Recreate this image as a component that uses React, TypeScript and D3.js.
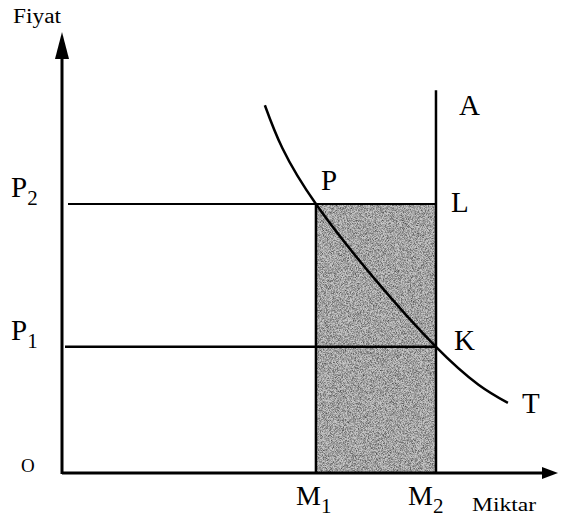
import React from 'react';
import * as d3 from 'd3';

// quantity / price values (axes run 0..100)
const demandQ = [40.9, 51.2, 75.4, 89.9];
const demandP = [83.4, 61.0, 28.6, 15.9];
const M1 = 51.2;
const M2 = 75.4;
const P1 = 28.6;
const P2 = 61.0;
const supplyTop = 86.8;

const W = 562;
const H = 521;
const FONT = '"Liberation Serif", "Times New Roman", serif';

const x = d3.scaleLinear().domain([0, 100]).range([62, 558]);
const y = d3.scaleLinear().domain([0, 100]).range([473, 32]);

const App = () => {
  const demandLine = d3
    .line<number>()
    .x((_, i) => x(demandQ[i]))
    .y((d) => y(d))
    .curve(d3.curveNatural)(demandP) as string;

  const x0 = x(0);
  const y0 = y(0);
  const xm1 = x(M1);
  const xm2 = x(M2);
  const yp1 = y(P1);
  const yp2 = y(P2);
  const xEnd = x(100);
  const yEnd = y(100);

  return (
    <svg
      width={W}
      height={H}
      style={{ position: 'absolute', left: 0, top: 0, background: '#fff' }}
      fontFamily={FONT}
    >
      <defs>
        <filter id="grain" x="0" y="0" width="100%" height="100%">
          <feTurbulence type="fractalNoise" baseFrequency="1.4" numOctaves="2" seed="3" result="n" />
          <feColorMatrix
            in="n"
            type="matrix"
            values="0 0 0 0 0  0 0 0 0 0  0 0 0 0 0  1.2 0 0 0 -0.42"
          />
        </filter>
      </defs>

      {/* shaded area M1..M2, 0..P2 */}
      <rect x={xm1} y={yp2} width={xm2 - xm1} height={y0 - yp2} fill="#c6c6c6" />
      <rect x={xm1} y={yp2} width={xm2 - xm1} height={y0 - yp2} fill="#000" filter="url(#grain)" />

      {/* price lines */}
      <line x1={x0 + 6} x2={xm2} y1={yp2} y2={yp2} stroke="#000" strokeWidth={2} />
      <line x1={x0 + 3} x2={xm2} y1={yp1} y2={yp1} stroke="#000" strokeWidth={2.5} />

      {/* M1 vertical and supply line A */}
      <line x1={xm1} x2={xm1} y1={yp2} y2={y0} stroke="#000" strokeWidth={2.5} />
      <line x1={xm2} x2={xm2} y1={y(supplyTop)} y2={y0} stroke="#000" strokeWidth={2.5} />

      {/* demand curve T */}
      <path d={demandLine} fill="none" stroke="#000" strokeWidth={2.5} />

      {/* axes */}
      <line x1={x0} x2={x0} y1={y0 + 1} y2={yEnd + 20} stroke="#000" strokeWidth={3} />
      <path d={`M${x0},${yEnd} L${x0 + 7},${yEnd + 27} L${x0 - 7},${yEnd + 27} Z`} fill="#000" />
      <line x1={x0} x2={xEnd - 12} y1={y0} y2={y0} stroke="#000" strokeWidth={3} />
      <path d={`M${xEnd},${y0} L${xEnd - 16},${y0 - 6} L${xEnd - 16},${y0 + 6} Z`} fill="#000" />

      {/* labels */}
      <text x={13} y={23} fontSize={20} textLength={48} lengthAdjust="spacingAndGlyphs">Fiyat</text>
      <text x={472} y={511} fontSize={19} textLength={64} lengthAdjust="spacingAndGlyphs">Miktar</text>
      <text x={21} y={472} fontSize={19}>O</text>

      <text x={11} y={197} fontSize={29}>
        P<tspan fontSize={21} dy={8}>2</tspan>
      </text>
      <text x={11} y={340} fontSize={29}>
        P<tspan fontSize={21} dy={8}>1</tspan>
      </text>
      <text x={296} y={505} fontSize={28}>
        M<tspan fontSize={21} dy={8}>1</tspan>
      </text>
      <text x={408} y={505} fontSize={28}>
        M<tspan fontSize={21} dy={8}>2</tspan>
      </text>

      <text x={459} y={115} fontSize={29}>A</text>
      <text x={321} y={190} fontSize={29}>P</text>
      <text x={451} y={212} fontSize={29}>L</text>
      <text x={454} y={350} fontSize={29}>K</text>
      <text x={522} y={413} fontSize={29}>T</text>
    </svg>
  );
};

export default App;
